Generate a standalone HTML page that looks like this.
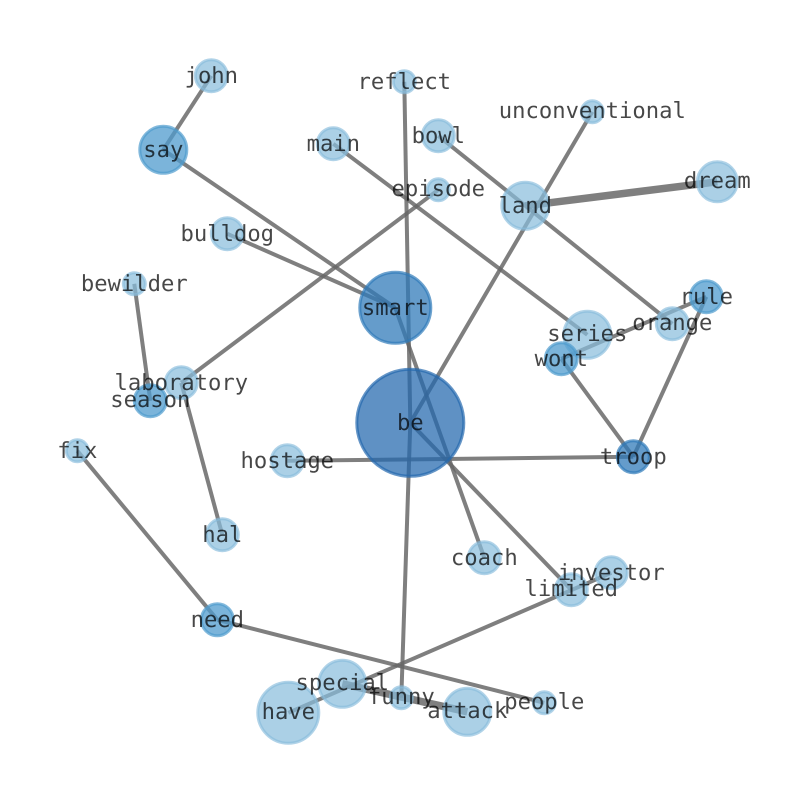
<!DOCTYPE html>
<html><head><meta charset="utf-8"><style>
html,body{margin:0;padding:0;background:#fff}
svg{display:block}
.edges{opacity:.6}
.e{stroke:#000;stroke-opacity:.83;stroke-width:4;fill:none}
.t{stroke-width:7.5}
text{font-family:"DejaVu Sans Mono","Liberation Mono",monospace;font-size:22.2px;text-anchor:middle;fill:#000;fill-opacity:.72;text-rendering:geometricPrecision}
.a circle{fill:#87bcdb;stroke:#87bcdb;fill-opacity:.7;stroke-opacity:.65;stroke-width:3}
.b circle{fill:#4f9bcd;stroke:#4f9bcd;fill-opacity:.75;stroke-opacity:.7;stroke-width:3}
.c circle{fill:#2f7ab9;stroke:#2f7ab9;fill-opacity:.74;stroke-opacity:.7;stroke-width:3}
.d circle{fill:#2468ae;stroke:#2468ae;fill-opacity:.73;stroke-opacity:.7;stroke-width:3}
</style></head><body>
<svg width="794" height="790" viewBox="0 0 794 790" xmlns="http://www.w3.org/2000/svg">
<rect width="794" height="790" fill="#fff"/>
<g transform="translate(.3,-.2)">
<g class="edges">
<line class="e" x1="211" y1="76" x2="163" y2="150"/>
<line class="e" x1="163" y1="150" x2="395" y2="308"/>
<line class="e" x1="227" y1="234" x2="395" y2="308"/>
<line class="e" x1="395" y1="308" x2="484" y2="558"/>
<line class="e" x1="404" y1="82" x2="410" y2="423"/>
<line class="e" x1="333" y1="144" x2="587" y2="335"/>
<line class="e" x1="438" y1="136" x2="672" y2="324"/>
<line class="e" x1="592" y1="112" x2="410" y2="423"/>
<line class="e t" x1="525" y1="206" x2="717" y2="182"/>
<line class="e" x1="438" y1="190" x2="181" y2="383"/>
<line class="e" x1="134" y1="284" x2="150" y2="401"/>
<line class="e" x1="181" y1="383" x2="222" y2="535"/>
<line class="e" x1="77" y1="451" x2="217" y2="620"/>
<line class="e" x1="217" y1="620" x2="544" y2="703"/>
<line class="e" x1="611" y1="573" x2="288" y2="713"/>
<line class="e" x1="410" y1="423" x2="571" y2="590"/>
<line class="e" x1="410" y1="423" x2="401" y2="698"/>
<line class="e t" x1="342" y1="684" x2="467" y2="712"/>
<line class="e" x1="287" y1="461" x2="633" y2="457"/>
<line class="e" x1="561" y1="359" x2="633" y2="457"/>
<line class="e" x1="706" y1="297" x2="633" y2="457"/>
<line class="e" x1="706" y1="297" x2="561" y2="359"/>
</g>
<g class="a">
<circle cx="211" cy="76" r="16"/>
<circle cx="404" cy="82" r="11"/>
<circle cx="333" cy="144" r="16"/>
<circle cx="438" cy="136" r="16"/>
<circle cx="592" cy="112" r="11"/>
<circle cx="717" cy="182" r="20"/>
<circle cx="525" cy="206" r="23.5"/>
<circle cx="438" cy="190" r="11"/>
<circle cx="227" cy="234" r="16"/>
<circle cx="134" cy="284" r="11"/>
<circle cx="672" cy="324" r="16"/>
<circle cx="587" cy="335" r="23.5"/>
<circle cx="181" cy="383" r="16"/>
<circle cx="287" cy="461" r="16"/>
<circle cx="77" cy="451" r="11"/>
<circle cx="222" cy="535" r="16"/>
<circle cx="484" cy="558" r="16"/>
<circle cx="611" cy="573" r="16"/>
<circle cx="571" cy="590" r="16"/>
<circle cx="342" cy="684" r="23.5"/>
<circle cx="401" cy="698" r="11"/>
<circle cx="288" cy="713" r="30.5"/>
<circle cx="467" cy="712" r="23.5"/>
<circle cx="544" cy="703" r="11"/>
</g>
<g class="b">
<circle cx="163" cy="150" r="23.5"/>
<circle cx="706" cy="297" r="16"/>
<circle cx="561" cy="359" r="16"/>
<circle cx="150" cy="401" r="16"/>
<circle cx="217" cy="620" r="16"/>
</g>
<g class="c">
<circle cx="395" cy="308" r="35.5"/>
<circle cx="633" cy="457" r="16"/>
</g>
<g class="d">
<circle cx="410" cy="423" r="53.5"/>
</g>
<text x="211" y="83">john</text>
<text x="163" y="157">say</text>
<text x="404" y="89">reflect</text>
<text x="333" y="151">main</text>
<text x="438" y="143">bowl</text>
<text x="592" y="118">unconventional</text>
<text x="717" y="188">dream</text>
<text x="525" y="213">land</text>
<text x="438" y="196">episode</text>
<text x="227" y="241">bulldog</text>
<text x="134" y="291">bewilder</text>
<text x="395" y="315">smart</text>
<text x="706" y="304">rule</text>
<text x="672" y="330">orange</text>
<text x="587" y="341">series</text>
<text x="561" y="366">wont</text>
<text x="181" y="390">laboratory</text>
<text x="150" y="407">season</text>
<text x="410" y="430">be</text>
<text x="287" y="468">hostage</text>
<text x="633" y="464">troop</text>
<text x="77" y="458">fix</text>
<text x="222" y="542">hal</text>
<text x="484" y="565">coach</text>
<text x="611" y="580">investor</text>
<text x="571" y="596">limited</text>
<text x="217" y="627">need</text>
<text x="342" y="690">special</text>
<text x="401" y="704">funny</text>
<text x="288" y="719">have</text>
<text x="467" y="718">attack</text>
<text x="544" y="709">people</text>
</g>
</svg>
</body></html>
